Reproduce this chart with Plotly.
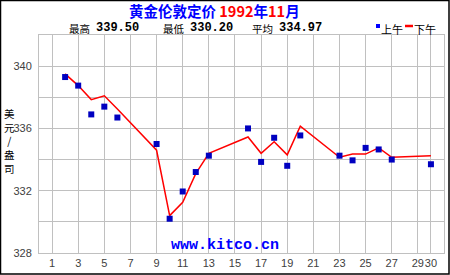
import plotly.graph_objects as go

days = [2, 3, 4, 5, 6, 9, 10, 11, 12, 13, 16, 17, 18, 19, 20, 23, 24, 25, 26, 27, 30]
am_prices = [339.30, 338.75, 336.90, 337.40, 336.70, 335.00, 330.20, 331.95, 333.20, 334.25,
             336.00, 333.85, 335.40, 333.60, 335.55, 334.25, 333.95, 334.75, 334.65, 334.00, 333.70]
pm_prices = [339.50, 338.75, 337.85, 338.10, 337.25, 334.60, 330.40, 331.25, 333.10, 334.40,
             335.45, 334.40, 335.15, 334.30, 336.15, 334.15, 334.35, 334.35, 334.75, 334.15, 334.25]
x_ticks = [1, 3, 5, 7, 9, 11, 13, 15, 17, 19, 21, 23, 25, 27, 29, 30]
y_ticks = [328, 330, 332, 334, 336, 338, 340, 342]
y_labels = ["328", "", "332", "", "336", "", "340", ""]
stat_labels = ["最高", "最低", "平均"]
stat_values = ["339.50", "330.20", "334.97"]
y_title_chars = ["美", "元", "/", "盎", "司"]

W, H = 450, 275
L, R, T, B = 39, 6, 35, 22
pw, ph = W - L - R, H - T - B

fig = go.Figure()
fig.add_trace(go.Scatter(x=days, y=pm_prices, mode="lines",
                         line=dict(color="#ff0000", width=1.5), name="下午", showlegend=False))
fig.add_trace(go.Scatter(x=days, y=am_prices, mode="markers",
                         marker=dict(symbol="square", size=6, color="#0000c0"),
                         name="上午", showlegend=False))

grid = "#c0c0c0"
tickfont = dict(family="Liberation Sans, Arial", size=11, color="#404040")
fig.update_layout(
    width=W, height=H,
    margin=dict(l=L, r=R, t=T, b=B, pad=0),
    paper_bgcolor="white", plot_bgcolor="white",
    xaxis=dict(range=[0, 31], tickvals=x_ticks, ticktext=[str(t) for t in x_ticks],
               tickangle=0,
               showgrid=True, gridcolor=grid, gridwidth=1, zeroline=False,
               showline=True, linecolor=grid, linewidth=1, mirror=True,
               ticks="", tickfont=tickfont),
    yaxis=dict(range=[328, 342], tickvals=y_ticks, ticktext=y_labels,
               showgrid=True, gridcolor=grid, gridwidth=1, zeroline=False,
               showline=True, linecolor=grid, linewidth=1, mirror=True,
               ticks="", ticklabelstandoff=4, tickfont=tickfont),
    font=dict(family="Noto Sans CJK SC"),
)

def px_x(p):
    return (p - L) / pw

def px_y(p):
    return (H - B - p) / ph

cjk = "Noto Sans CJK SC"
# Title
fig.add_annotation(
    text="<b><span style='color:#0000ff'>黄金伦敦定价 </span><span style='color:#ff0000'>1992</span>"
         "<span style='color:#0000ff'>年</span><span style='color:#ff0000'>11</span>"
         "<span style='color:#0000ff'>月</span></b>",
    xref="paper", yref="paper", x=px_x(214), y=px_y(10.7), showarrow=False,
    xanchor="center", yanchor="middle", borderpad=0,
    font=dict(family=cjk, size=14.5))

# Stats line
label_x = [68, 162, 251]
value_x = [95, 189, 278]
for lab, val, lx, vx in zip(stat_labels, stat_values, label_x, value_x):
    fig.add_annotation(text=lab, xref="paper", yref="paper", x=px_x(lx), y=px_y(28.6),
                       showarrow=False, xanchor="left", yanchor="middle", borderpad=0,
                       font=dict(family=cjk, size=10.5, color="black"))
    fig.add_annotation(text=f"<b>{val}</b>", xref="paper", yref="paper", x=px_x(vx), y=px_y(28),
                       showarrow=False, xanchor="left", yanchor="middle", borderpad=0,
                       font=dict(family="Liberation Mono", size=12, color="black"))

# Legend
fig.add_shape(type="rect", xref="paper", yref="paper",
              x0=px_x(376), x1=px_x(380), y0=px_y(28), y1=px_y(24),
              line=dict(width=0), fillcolor="#0000ff")
fig.add_annotation(text="上午", xref="paper", yref="paper", x=px_x(380), y=px_y(28.6),
                   showarrow=False, xanchor="left", yanchor="middle", borderpad=0,
                   font=dict(family=cjk, size=11, color="black"))
fig.add_shape(type="line", xref="paper", yref="paper",
              x0=px_x(405), x1=px_x(413), y0=px_y(26), y1=px_y(26),
              line=dict(color="#ff0000", width=2.5))
fig.add_annotation(text="下午", xref="paper", yref="paper", x=px_x(413), y=px_y(28.6),
                   showarrow=False, xanchor="left", yanchor="middle", borderpad=0,
                   font=dict(family=cjk, size=11, color="black"))

# Y axis title, stacked characters
fig.add_annotation(text="<br>".join(y_title_chars), xref="paper", yref="paper",
                   x=px_x(9), y=px_y(141), showarrow=False, xanchor="center", yanchor="middle",
                   font=dict(family=cjk, size=10.5, color="black"))

# Watermark
fig.add_annotation(
    text="<b>www.kitco.cn</b>",
    xref="paper", yref="paper", x=px_x(225), y=px_y(245), showarrow=False,
    xanchor="center", yanchor="middle", font=dict(family="Liberation Mono", size=15, color="#0000ff"))

# Outer border
fig.add_shape(type="rect", xref="paper", yref="paper",
              x0=px_x(0.5), x1=px_x(449), y0=px_y(274), y1=px_y(0.5),
              line=dict(color="black", width=1.5), fillcolor="rgba(0,0,0,0)", layer="above")

fig.write_html("out.html")
